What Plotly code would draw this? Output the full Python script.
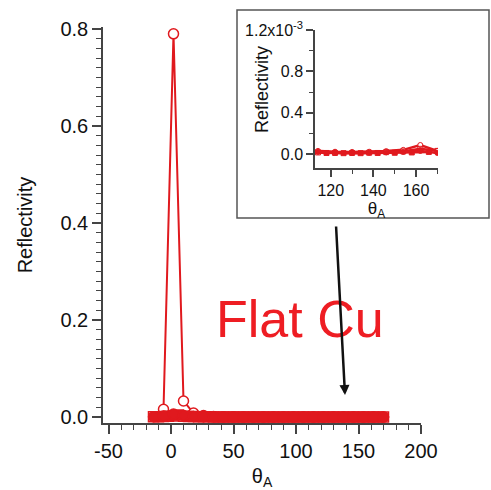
import plotly.graph_objects as go

# ---------------- data ----------------
theta_a = [-6, 2, 10, 18, 26, 34, 42, 50, 58, 66, 74, 82, 90, 98, 106, 114, 122, 130, 138, 146, 154, 162, 170]
refl_a = [0.016, 0.79, 0.033, 0.008, 0.003, 0.0012, 0.0006, 0.0003, 0.0002, 0.00012, 0.0001, 0.00008,
          0.00006, 0.00005, 0.00004, 0.00003, 0.000022, 0.00002, 0.000022, 0.000028, 0.00004, 0.000087, 0.00003]

theta_b = [-14, -6, 2, 10, 18, 26, 34, 42, 50, 58, 66, 74, 82, 90, 98, 106, 114, 122, 130, 138, 146, 154, 162, 170]
refl_b = [0.0005, 0.002, 0.006, 0.003, 0.001, 0.0005, 0.0003, 0.0002, 0.00015, 0.0001, 0.00008, 0.00006,
          0.00005, 0.00004, 0.00003, 0.000025, 0.00002, 0.000015, 0.000012, 0.000012, 0.000015, 0.00002, 0.00003, 0.00001]

theta_c = [-14, -6, 2, 10, 18, 26, 34, 42, 50, 58, 66, 74, 82, 90, 98, 106, 114, 122, 130, 138, 146, 154, 162, 170]
refl_c = [0.0003, 0.0008, 0.002, 0.0015, 0.0008, 0.0004, 0.0002, 0.00015, 0.0001, 0.00008, 0.00006, 0.00005,
          0.00004, 0.00003, 0.000025, 0.00002, 0.000015, 0.00001, 0.00001, 0.000012, 0.000018, 0.000025, 0.00005, 0.00003]

theta_d = [-10, -2, 6, 14, 22, 30, 38, 46, 54, 62, 70, 78, 86, 94, 102, 110, 118, 126, 134, 142, 150, 158, 166]
refl_d = [0.0004, 0.0015, 0.004, 0.0012, 0.0006, 0.0003, 0.0002, 0.00012, 0.0001, 0.00008, 0.00006, 0.00005,
          0.00004, 0.00003, 0.00002, 0.000015, 0.00001, 0.000008, 0.000008, 0.00001, 0.000012, 0.000015, 0.00002]

main_xticks = [-50, 0, 50, 100, 150, 200]
main_xticklabels = ["-50", "0", "50", "100", "150", "200"]
main_yticks = [0.0, 0.2, 0.4, 0.6, 0.8]
main_yticklabels = ["0.0", "0.2", "0.4", "0.6", "0.8"]
inset_xticks = [120, 140, 160]
inset_xticklabels = ["120", "140", "160"]
inset_yticks = [0.0, 0.0004, 0.0008, 0.0012]
inset_yticklabels = ["0.0", "0.4", "0.8", "1.2x10<sup>-3</sup>"]

RED = "#e0191e"
FONT = "Liberation Sans, Arial, sans-serif"
W, H = 491, 490

# drawing order: peak series first, others on top (band at zero)
series = [
    (theta_a, refl_a, "circle", "white", 2),
    (theta_d, refl_d, "square", RED, 3),
    (theta_c, refl_c, "square-open", RED, 3),
    (theta_b, refl_b, "circle", RED, 3),
]

fig = go.Figure()
for xs, ys, sym, fill, lw in series:
    for ax_x, ax_y, msize, mlw, lw2 in (("x", "y", 10, 1.5, lw), ("x2", "y2", 5, 1, 2.5)):
        fig.add_trace(go.Scatter(
            x=xs, y=ys, mode="lines+markers",
            xaxis=ax_x, yaxis=ax_y,
            line=dict(color=RED, width=lw2),
            marker=dict(symbol=sym, size=msize, color=fill,
                        line=dict(color=RED, width=mlw)),
            showlegend=False, hoverinfo="skip",
        ))

def px_x(p):
    return p / W

def px_y(p):
    return 1 - p / H

axis_common = dict(showline=True, linecolor="#444", linewidth=1.5, ticks="outside",
                   tickcolor="#444", tickwidth=1.5, showgrid=False, zeroline=False,
                   mirror=False, automargin=False)

fig.update_layout(
    width=W, height=H,
    margin=dict(l=0, r=0, t=0, b=0),
    paper_bgcolor="white", plot_bgcolor="rgba(0,0,0,0)",
    font=dict(family=FONT, color="#111"),
    xaxis=dict(domain=[px_x(103), px_x(421)], range=[-54.4, 200], anchor="y",
               tickvals=main_xticks, ticktext=main_xticklabels, ticklen=9,
               minor=dict(dtick=10, tick0=0, ticklen=5, ticks="outside", tickcolor="#444", tickwidth=1.2),
               tickfont=dict(size=20, family=FONT, color="#111"),
               title=dict(text="θ<sub>A</sub>", font=dict(size=20, family=FONT, color="#111"), standoff=8),
               **axis_common),
    yaxis=dict(domain=[px_y(423), px_y(27)], range=[-0.0124, 0.8041], anchor="x",
               tickvals=main_yticks, ticktext=main_yticklabels, ticklen=9,
               minor=dict(dtick=0.02, tick0=0, ticklen=5, ticks="outside", tickcolor="#444", tickwidth=1.2),
               tickfont=dict(size=20, family=FONT, color="#111"),
               title=dict(text="Reflectivity", font=dict(size=20, family=FONT, color="#111"), standoff=22),
               **axis_common),
    xaxis2=dict(domain=[px_x(315), px_x(438)], range=[112.6, 170.3], anchor="y2",
                tickvals=inset_xticks, ticktext=inset_xticklabels, ticklen=7,
                minor=dict(dtick=10, tick0=0, ticklen=4, ticks="outside", tickcolor="#444", tickwidth=1.2),
                tickfont=dict(size=16, family=FONT, color="#111"),
                title=dict(text="θ<sub>A</sub>", font=dict(size=17, family=FONT, color="#111"), standoff=1),
                **axis_common),
    yaxis2=dict(domain=[px_y(168), px_y(30)], range=[-0.0001355, 0.0012], anchor="x2",
                tickvals=inset_yticks, ticktext=inset_yticklabels, ticklen=7,
                minor=dict(dtick=0.0002, tick0=0, ticklen=4, ticks="outside", tickcolor="#444", tickwidth=1.2),
                tickfont=dict(size=16, family=FONT, color="#111"),
                **axis_common),
)

# inset y-axis title (placed next to the short tick labels, like the original)
fig.add_annotation(text="Reflectivity", xref="paper", yref="paper",
                   x=px_x(262), y=px_y(90), xanchor="center", yanchor="middle",
                   textangle=-90, showarrow=False,
                   font=dict(size=18, family=FONT, color="#111"))

# inset frame
fig.add_shape(type="rect", xref="paper", yref="paper",
              x0=px_x(237), x1=px_x(489), y0=px_y(218), y1=px_y(10),
              line=dict(color="#555", width=1.5), fillcolor="rgba(0,0,0,0)", layer="below")

# label
fig.add_annotation(text="Flat Cu", xref="paper", yref="paper",
                   x=px_x(300), y=px_y(319), xanchor="center", yanchor="middle",
                   showarrow=False, font=dict(size=52, family=FONT, color="#ee1d23"))

# arrow
fig.add_annotation(text="", xref="paper", yref="paper",
                   x=px_x(345), y=px_y(395), ax=-9, ay=-170,
                   showarrow=True, arrowhead=2, arrowsize=0.8, arrowwidth=2.5,
                   arrowcolor="#111", standoff=0)

fig.write_html("out.html")
